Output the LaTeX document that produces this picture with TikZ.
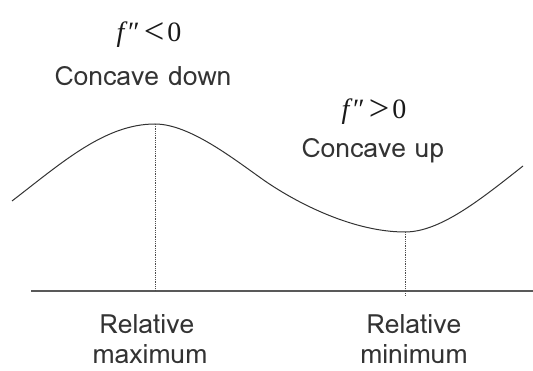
\documentclass[tikz,border=0pt]{standalone}
\usepackage{fontspec}
\usepackage{graphicx}
\setmainfont{Liberation Serif}
\newfontfamily\labfont[Script=Thai]{Loma}
\newcommand{\dprime}{\kern0.5pt\raisebox{0.02em}{\upshape\char"2033}}
\newcommand{\bigrel}[1]{\raisebox{-0.06em}{\scalebox{1.3}{#1}}}
\begin{document}
\begin{tikzpicture}[x=1pt,y=-1pt,
  lab/.style={font=\labfont\fontsize{26.5}{28}\selectfont, inner sep=0pt, anchor=base, text=black!80},
  mth/.style={font=\fontsize{28}{30}\selectfont, inner sep=0pt, anchor=base, text=black!90},
  curve/.style={line width=1pt, black!80},
  axisline/.style={line width=1.2pt, black!65},
  guide/.style={line width=0.8pt, black!70, densely dotted}]
\useasboundingbox (0,0) rectangle (533,371);
% curve
\draw[curve] (12,201) .. controls (62,162.5) and (105,124) .. (155,124)
  .. controls (190,124) and (235,160) .. (265,181)
  .. controls (300,205) and (355,232) .. (405,232)
  .. controls (440,232) and (480,200) .. (523,166);
\coordinate (max) at (155,124);
\coordinate (min) at (405,232);
\coordinate (axL) at (31,291);
\coordinate (axR) at (533,291);
\coordinate (maxfoot) at (155,291);
\coordinate (minfoot) at (405,296);
\draw[axisline] (axL) -- (axR);
\draw[guide] (max) -- (maxfoot);
\draw[guide] (min) -- (minfoot);
% labels
\node[mth] (fneg) at (149,42) {\textit{f}\dprime\kern4pt\bigrel{<}\kern3pt0};
\node[mth] (fpos) at (374,119) {\textit{f}\dprime\kern4pt\bigrel{>}\kern3pt0};
\node[lab] (cdown) at (143,86) {Concave down};
\node[lab] (cup) at (373,158) {Concave up};
\node[lab] (rel1) at (147,334) {Relative};
\node[lab] (max1) at (150,363) {maximum};
\node[lab] (rel2) at (414,334) {Relative};
\node[lab] (min1) at (414,363) {minimum};
\end{tikzpicture}
\end{document}
